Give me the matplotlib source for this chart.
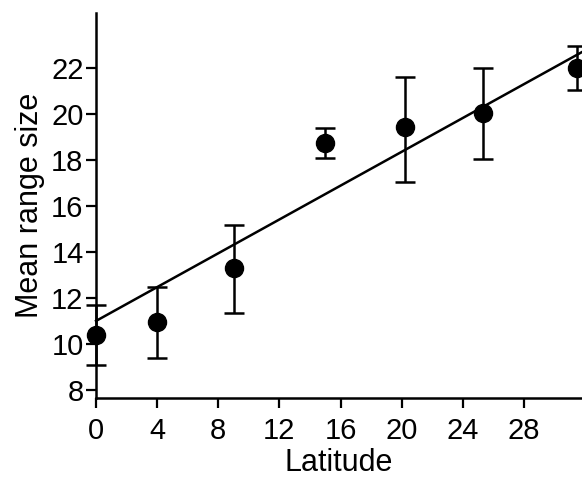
import matplotlib
matplotlib.use("Agg")
import matplotlib.pyplot as plt
import numpy as np

plt.rcParams['font.family'] = ['Liberation Sans', 'DejaVu Sans']

# mean range size by latitude, with error bar ends
latitude = [0, 4, 9, 15, 20.2, 25.3, 31.5]
mean_size = [10.4, 10.96, 13.3, 18.74, 19.43, 20.04, 22.0]
err_low = [9.1, 9.39, 11.35, 18.1, 17.04, 18.04, 21.04]
err_high = [11.7, 12.48, 15.17, 19.4, 21.6, 22.0, 22.96]

# regression line ends
fit_x = [0, 31.8]
fit_y = [11.0, 22.7]

x_ticks = [0, 4, 8, 12, 16, 20, 24, 28]
y_ticks = [8, 10, 12, 14, 16, 18, 20, 22]

fig = plt.figure(figsize=(5.82, 4.8), dpi=100)
ax = fig.add_axes([0.165, 0.171, 0.835, 0.802])

mean_size = np.array(mean_size)
yerr = [mean_size - np.array(err_low), np.array(err_high) - mean_size]
eb = ax.errorbar(latitude, mean_size, yerr=yerr, fmt='o', color='black',
                 markersize=13, elinewidth=1.8, capsize=7, capthick=1.8,
                 clip_on=False, zorder=3)
for art in eb.lines[1] + eb.lines[2]:
    art.set_clip_on(False)
eb.lines[0].set_clip_on(False)

ax.plot(fit_x, fit_y, color='black', linewidth=1.8, clip_on=False)

ax.set_xlim(0, 31.8)
ax.set_ylim(7.65, 24.4)
ax.set_xticks(x_ticks)
ax.set_yticks(y_ticks)
ax.tick_params(axis='both', direction='out', length=7, width=1.6, labelsize=21)
ax.tick_params(axis='x', pad=7)
ax.tick_params(axis='y', pad=2)
ax.spines['top'].set_visible(False)
ax.spines['right'].set_visible(False)
ax.spines['left'].set_linewidth(1.8)
ax.spines['bottom'].set_linewidth(1.8)
ax.set_xlabel("Latitude", fontsize=22, labelpad=2)
ax.set_ylabel("Mean range size", fontsize=22, labelpad=4)

fig.savefig("out.png", dpi=100)
